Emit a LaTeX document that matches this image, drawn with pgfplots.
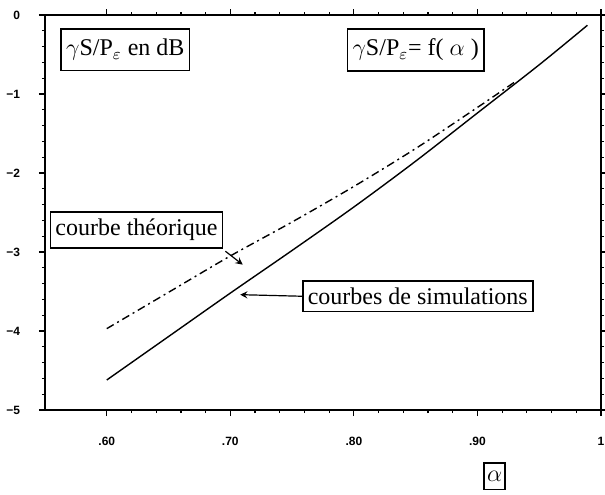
\documentclass[border=0pt]{standalone}
\usepackage{fontspec}
\setmainfont{Liberation Serif}
\newfontfamily\tickfont{Liberation Sans}
\usepackage{pgfplots}
\pgfplotsset{compat=1.18}
\begin{document}
\begin{tikzpicture}
\useasboundingbox (-22.5pt,-42pt) rectangle (280pt,205pt);
\begin{axis}[
  at={(0,0)}, anchor=south west,
  scale only axis, width=278pt, height=197.5pt,
  xmin=0.55, xmax=1.0, ymin=-5, ymax=0,
  xtick={0.6,0.7,0.8,0.9,1.0},
  xticklabels={.60,.70,.80,.90,1},
  ytick={-5,-4,-3,-2,-1,0},
  yticklabels={−5,−4,−3,−2,−1,0},
  minor x tick num=4, minor y tick num=4,
  tick align=outside, tick pos=both,
  major tick length=3pt, minor tick length=1.5pt,
  axis line style={line width=1pt},
  every tick/.style={black, line width=0.6pt},
  /pgf/number format/assume math mode=true,
  ticklabel style={font=\tickfont\bfseries\fontsize{6}{7}\selectfont},
  xticklabel style={yshift=-7pt},
  yticklabel style={xshift=-6pt},
  clip=false,
]
\addplot[black, line width=0.7pt, smooth] coordinates {
(0.60,-4.62) (0.65,-4.07) (0.70,-3.52) (0.75,-2.98) (0.80,-2.43)
(0.85,-1.85) (0.90,-1.24) (0.95,-0.63) (0.989,-0.13)};
\addplot[black, line width=0.7pt, smooth, dash pattern=on 4pt off 2pt on 1pt off 2pt] coordinates {
(0.60,-3.97) (0.65,-3.51) (0.70,-3.05) (0.75,-2.62) (0.80,-2.17)
(0.85,-1.69) (0.90,-1.17) (0.93,-0.85)};
\tikzset{lab/.style={draw, line width=0.8pt, inner xsep=2.5pt, inner ysep=3.5pt, font=\fontsize{12}{13}\selectfont}}
\node[lab, inner ysep=5pt] at (axis cs:0.615,-0.44) {$\gamma$S/P$_{\varepsilon}$ en dB};
\node[lab, inner ysep=5pt] at (axis cs:0.850,-0.44) {$\gamma$S/P$_{\varepsilon}$= f( $\alpha$ )};
\node[lab] at (axis cs:0.624,-2.72) {courbe théorique};
\node[lab, anchor=west] at (axis cs:0.758,-3.56) {courbes de simulations};
\draw[->, >=stealth, line width=0.6pt] (axis cs:0.696,-2.99) -- (axis cs:0.710,-3.16);
\draw[->, >=stealth, line width=0.6pt] (axis cs:0.758,-3.56) -- (axis cs:0.708,-3.54);
\node[lab, inner xsep=1.5pt, inner ysep=4pt, font=\fontsize{13}{14}\selectfont] at (axis cs:0.914,-5.84) {$\alpha$};
\end{axis}
\end{tikzpicture}
\end{document}
